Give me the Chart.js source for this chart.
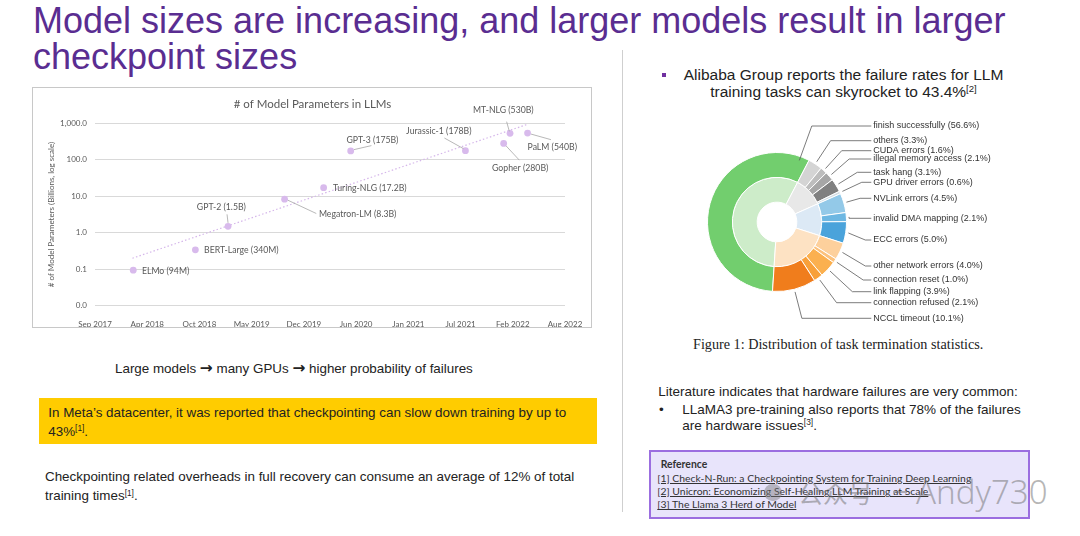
<!DOCTYPE html>
<html><head><meta charset="utf-8">
<script src="https://cdn.jsdelivr.net/npm/chart.js@4.4.1/dist/chart.umd.min.js"></script>
<style>
html,body{margin:0;padding:0;background:#fff;}
#slide{position:relative;width:1080px;height:536px;overflow:hidden;font-family:"Liberation Sans",Arial,sans-serif;color:#222;}
.abs{position:absolute;white-space:nowrap;}
sup{font-size:0.62em;vertical-align:0;position:relative;top:-0.5em;}
.arr{font-family:"DejaVu Sans",sans-serif;font-weight:bold;font-size:1.15em;line-height:0;}
.ref{font-family:Lato,"Open Sans",sans-serif;font-size:10.4px;line-height:13.3px;color:#333;}
.ref u{text-decoration:underline;}
</style></head><body>
<div id="slide">
  <div class="abs" style="left:33px;top:3px;font-size:36px;line-height:36px;color:#5a2d91;">Model sizes are increasing, and larger models result in larger<br>checkpoint sizes</div>

  <div class="abs" style="left:32px;top:87px;width:560px;height:241px;border:1px solid #c8c8c8;box-sizing:border-box;"></div>
  <canvas id="scatter" class="abs" style="left:33px;top:88px;" width="559" height="239"></canvas>

  <div class="abs" style="left:115px;top:361.4px;font-size:13.4px;line-height:16px;">Large models <span class="arr">→</span> many GPUs <span class="arr">→</span> higher probability of failures</div>

  <div class="abs" style="left:39px;top:398px;width:558px;height:46px;background:#ffcc00;"></div>
  <div class="abs" style="left:48.3px;top:402.5px;font-size:13.4px;line-height:19px;">In Meta’s datacenter, it was reported that checkpointing can slow down training by up to<br>43%<sup>[1]</sup>.</div>

  <div class="abs" style="left:45px;top:468.3px;font-size:13.4px;line-height:18.7px;">Checkpointing related overheads in full recovery can consume an average of 12% of total<br>training times<sup>[1]</sup>.</div>

  <div class="abs" style="left:622px;top:50px;width:1px;height:462px;background:#cfcfcf;"></div>

  <div class="abs" style="left:662px;top:73px;width:4px;height:4px;background:#7030a0;"></div>
  <div class="abs" style="left:676px;top:67px;width:335px;text-align:center;font-size:15.5px;line-height:16.7px;white-space:normal;">Alibaba Group reports the failure rates for LLM<br>training tasks can skyrocket to 43.4%<sup>[2]</sup></div>

  <canvas id="donut" class="abs" style="left:690px;top:110px;" width="360" height="220"></canvas>
  <div class="abs" style="left:693px;top:336px;font-family:'Liberation Serif',serif;font-size:14.2px;line-height:16px;color:#222;">Figure 1: Distribution of task termination statistics.</div>

  <div class="abs" style="left:658.3px;top:384px;font-size:13.5px;line-height:16px;">Literature indicates that hardware failures are very common:</div>
  <div class="abs" style="left:659px;top:402px;font-size:13.5px;line-height:15.5px;">•</div>
  <div class="abs" style="left:682.3px;top:402px;font-size:13.5px;line-height:15.5px;">LLaMA3 pre-training also reports that 78% of the failures<br>are hardware issues<sup>[3]</sup>.</div>

  <div class="abs" style="left:649px;top:450px;width:381px;height:69px;border:2px solid #9b6ee0;background:#e8e4fb;box-sizing:border-box;"></div>
  <div class="abs ref" style="left:660.7px;top:458.3px;font-weight:bold;">Reference</div>
  <div class="abs ref" style="left:657.3px;top:471.6px;"><u>[1] Check-N-Run: a Checkpointing System for Training Deep Learning</u></div>
  <div class="abs ref" style="left:657.3px;top:485px;"><u>[2] Unicron: Economizing Self-Healing LLM Training at Scale</u></div>
  <div class="abs ref" style="left:657.3px;top:498.3px;"><u>[3] The Llama 3 Herd of Model</u></div>

  <div class="abs" style="left:764px;top:484px;width:18px;height:17px;border-radius:9px;background:rgba(120,120,120,0.45);"></div>
  <div class="abs" style="left:798px;top:476px;font-family:'Noto Sans CJK SC',sans-serif;font-size:25px;line-height:32px;color:rgba(110,110,110,0.5);">公众号</div>
  <div class="abs" style="left:893px;top:491px;width:14px;height:2px;background:rgba(110,110,110,0.5);"></div>
  <div class="abs" style="left:916px;top:472px;font-family:'Noto Sans',sans-serif;font-weight:300;font-size:33px;line-height:40px;color:rgba(110,110,110,0.5);">Andy730</div>
</div>

<script>
// ---------- Scatter data: LLM parameter counts ----------
const modelNames  = ['ELMo (94M)','BERT-Large (340M)','GPT-2 (1.5B)','Megatron-LM (8.3B)','Turing-NLG (17.2B)','GPT-3 (175B)','Jurassic-1 (178B)','Gopher (280B)','MT-NLG (530B)','PaLM (540B)'];
const modelMonths = [4.8, 12.6, 16.7, 23.8, 28.7, 32.1, 46.5, 51.3, 52.1, 54.3];   // months after Sep 2017
const modelParams = [0.094, 0.34, 1.5, 8.3, 17.2, 175, 178, 280, 530, 540];      // billions
const trendMonths = [4.7, 54.3];
const trendParams = [0.2, 940];
const xTickLabels = ['Sep 2017','Apr 2018','Oct 2018','May 2019','Dec 2019','Jun 2020','Jan 2021','Jul 2021','Feb 2022','Aug 2022'];
const xSpanMonths = 59;
const yTickValues = [0.01, 0.1, 1, 10, 100, 1000];
const yTickLabels = ['0.0','0.1','1.0','10.0','100.0','1,000.0'];

// ---------- Doughnut data: task termination ----------
const failureCategories = ['finish successfully','others','CUDA errors','illegal memory access','task hang','GPU driver errors','NVLink errors','invalid DMA mapping','ECC errors','other network errors','connection reset','link flapping','connection refused','NCCL timeout'];
const failureShares = [56.6, 3.3, 1.6, 2.1, 3.1, 0.6, 4.5, 2.1, 5.0, 4.0, 1.0, 3.9, 2.1, 10.1];
const groupCategories = ['finish successfully','GPU / software','GPU hardware','network'];
const groupShares = [56.6, 10.7, 11.6, 21.1];

// ---------- Styles / layout ----------
const outerColors = ['#72ce6e','#d4d4d4','#bdbdbd','#a6a6a6','#808080','#d3dde3','#93c9e8','#6db7e2','#4aa3db','#fdd09c','#fcc27e','#fbb04f','#f8a03a','#f07d1c'];
const innerColors = ['#cdecc9','#e8e8e8','#dce9f5','#fde2c3'];
const labelLayout = [
  {dx:8.7,  dy:0.7,   align:'left'},
  {dx:8.7,  dy:0.3,   align:'left'},
  {dx:-6.7, dy:-19,   align:'center', line:[0,-3.5,-1,-12]},
  {dx:34.3, dy:15.3,  align:'left',   line:[3.3,1,31.7,14.3]},
  {dx:9.3,  dy:1,     align:'left'},
  {dx:-4.3, dy:-11,   align:'left',   line:[3.3,-1.3,20.7,-5.3]},
  {dx:-59.3,dy:-19.3, align:'left',   line:[-21,-12.6,-2,-2]},
  {dx:-11.6,dy:24.4,  align:'left',   line:[2.4,2.4,15.7,16.7]},
  {dx:-6.7, dy:-22.7, align:'center', line:[-0.7,-2,-3.4,-11.7]},
  {dx:0,    dy:14.6,  align:'left',   line:[3.4,1,23.4,6.6]}
];
const donutTextX = 183.3;
const donutTextY = [16, 30.7, 40.7, 49, 62.3, 72.3, 88.3, 108.3, 130, 156, 170, 181.7, 192.7, 208.3];

const scatterLabels = {
  id: 'scatterLabels',
  afterDatasetsDraw(chart) {
    const ctx = chart.ctx;
    const meta = chart.getDatasetMeta(1);
    ctx.save();
    ctx.font = '8.7px Lato';
    ctx.fillStyle = '#595959';
    ctx.strokeStyle = '#a6a6a6';
    ctx.lineWidth = 0.8;
    ctx.textBaseline = 'middle';
    meta.data.forEach((pt, i) => {
      const L = labelLayout[i];
      if (L.line) {
        ctx.beginPath();
        ctx.moveTo(pt.x + L.line[0], pt.y + L.line[1]);
        ctx.lineTo(pt.x + L.line[2], pt.y + L.line[3]);
        ctx.stroke();
      }
      ctx.textAlign = L.align;
      ctx.fillText(modelNames[i], pt.x + L.dx, pt.y + L.dy);
    });
    ctx.restore();
  }
};

new Chart(document.getElementById('scatter'), {
  type: 'scatter',
  data: {
    datasets: [
      { label: 'Trend', type: 'line', data: trendMonths.map((m, i) => ({x: m, y: trendParams[i]})),
        borderColor: '#d5b6ea', borderWidth: 1.2, borderDash: [1.5, 2.2], pointRadius: 0, fill: false, order: 2 },
      { label: 'Models', data: modelMonths.map((m, i) => ({x: m, y: modelParams[i]})),
        backgroundColor: '#d8baec', borderWidth: 0, pointRadius: 3.4, pointHoverRadius: 3.4, order: 1 }
    ]
  },
  options: {
    responsive: false, animation: false, events: [],
    layout: { padding: 0 },
    plugins: {
      legend: { display: false }, tooltip: { enabled: false },
      title: { display: true, text: '# of Model Parameters in LLMs', color: '#595959',
        font: { family: 'Lato', size: 11.5, weight: 'normal' }, padding: { top: 9.4, bottom: 12.1 }, fullSize: true }
    },
    scales: {
      x: {
        type: 'linear', min: 0, max: xSpanMonths,
        grid: { display: false }, border: { display: false },
        ticks: { autoSkip: false, maxRotation: 0, padding: 5.5, color: '#595959', font: { family: 'Lato', size: 8 },
          callback: (v, i) => xTickLabels[i] },
        afterBuildTicks: s => { s.ticks = xTickLabels.map((_, i) => ({ value: i * xSpanMonths / (xTickLabels.length - 1) })); },
        afterFit: s => { s.height = 21.3; }
      },
      y: {
        type: 'logarithmic', min: 0.01, max: 1000,
        grid: { color: '#d9d9d9', lineWidth: 1, drawTicks: false }, border: { display: false },
        ticks: { padding: 8, color: '#595959', font: { family: 'Lato', size: 8 }, autoSkip: false,
          callback: (v, i) => yTickLabels[i] },
        title: { display: true, text: '# of Model Parameters (Billions, log scale)', color: '#595959',
          font: { family: 'Lato', size: 8 }, padding: { top: 14, bottom: 0 } },
        afterBuildTicks: s => { s.ticks = yTickValues.map(v => ({ value: v })); },
        afterFit: s => { s.width = 62; }
      },
      yPad: {
        position: 'right', display: true, grid: { display: false }, border: { display: false },
        ticks: { display: false }, afterFit: s => { s.width = 27; }
      }
    }
  },
  plugins: [scatterLabels]
});

const donutLabels = {
  id: 'donutLabels',
  afterDatasetsDraw(chart) {
    const ctx = chart.ctx;
    const meta = chart.getDatasetMeta(0);
    ctx.save();
    ctx.font = '9px "Liberation Sans"';
    ctx.fillStyle = '#333';
    ctx.strokeStyle = '#5a5a5a';
    ctx.lineWidth = 0.8;
    ctx.textBaseline = 'middle';
    ctx.textAlign = 'left';
    meta.data.forEach((arc, i) => {
      const frac = i === 0 ? 0.963 : 0.5;
      const a = arc.startAngle + frac * (arc.endAngle - arc.startAngle);
      const r = arc.outerRadius + (i === 0 ? -4 : 2.7);
      const dx = Math.cos(a), dy = Math.sin(a);
      const ax = arc.x + r * dx, ay = arc.y + r * dy;
      const ty = donutTextY[i], tx = donutTextX;
      let ex = ax;
      const t = (ty - ay) / dy;
      if (isFinite(t) && t > 0) ex = ax + t * dx;
      ex = Math.max(ax, Math.min(ex, tx - 8));
      ctx.beginPath();
      ctx.moveTo(ax, ay);
      ctx.lineTo(ex, ty);
      ctx.lineTo(tx - 2, ty);
      ctx.stroke();
      ctx.fillText(failureCategories[i] + ' (' + failureShares[i].toFixed(1) + '%)', tx, ty);
    });
    ctx.restore();
  }
};

new Chart(document.getElementById('donut'), {
  type: 'doughnut',
  data: {
    labels: failureCategories,
    datasets: [
      { label: 'Termination reason', data: failureShares, backgroundColor: outerColors, borderColor: '#ffffff', borderWidth: 1 },
      { label: 'Group', data: groupShares, backgroundColor: innerColors, borderColor: '#ffffff', borderWidth: 1 }
    ]
  },
  options: {
    responsive: false, animation: false, events: [],
    rotation: 183.7, cutout: '28.57%',
    layout: { padding: { left: 17, top: 42, right: 203, bottom: 38 } },
    plugins: { legend: { display: false }, tooltip: { enabled: false } }
  },
  plugins: [donutLabels]
});
</script>
</body></html>
